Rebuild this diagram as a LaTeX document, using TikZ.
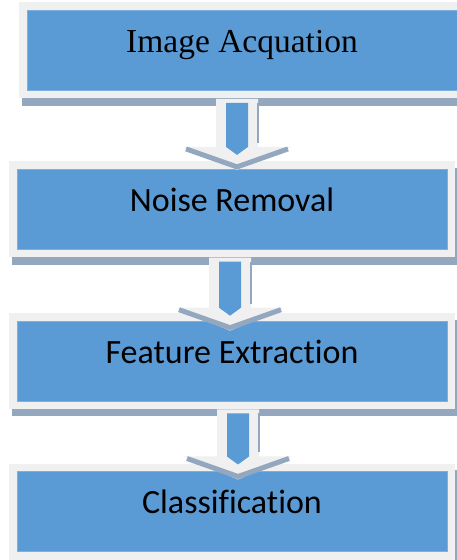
\documentclass[tikz,border=0pt]{standalone}
\usepackage{fontspec}
\setmainfont{Carlito}[Ligatures=NoCommon]
\newfontfamily\titleserif{Liberation Serif}
\usetikzlibrary{positioning,calc,backgrounds}

\definecolor{boxblue}{HTML}{5B9BD5}
\definecolor{edgeblue}{HTML}{7DB0E0}
\definecolor{framegray}{HTML}{F0F0F0}
\definecolor{shadowgray}{HTML}{93A8BF}

\begin{document}
\begin{tikzpicture}[x=1pt, y=1pt,
    box/.style={rectangle, fill=boxblue, draw=edgeblue, line width=0.8pt,
        minimum width=430pt, minimum height=80pt, inner sep=0pt,
        text height=24pt, text depth=20pt, font=\fontsize{34}{40}\selectfont,
        preaction={draw=framegray, line width=16pt}},
    chevron/.style={draw=shadowgray, line width=5pt, line join=round}
]
\useasboundingbox (0,0) rectangle (456,560);

% Stages
\node[box, font=\titleserif\fontsize{33.5}{40}\selectfont] (img) at (242,509.5) {Image Acquation};
\node[box, below=78pt of img, xshift=-10pt] (noise) {Noise Removal};
\node[box, below=71pt of noise] (feat) {Feature Extraction};
\node[box, below=70pt of feat] (class) {Classification};

% Shadows
\begin{scope}[on background layer]
\foreach \n in {img,noise,feat,class}
  \fill[shadowgray] ([shift={(-5,-15)}]\n.south west) rectangle ([shift={(11,1)}]\n.north east);
\end{scope}

% Arrows
\foreach \a/\b/\s/\t in {img/noise/0/1, noise/feat/-2/10, feat/class/6/8} {
  \coordinate (m) at ($(\a.south)!0.5!(\b.north)$);
  \coordinate (st) at ($(m |- \a.south)+(\s,-8)$);
  \coordinate (tp) at ($(m |- \b.north)+(\s,-\t)$);
  \fill[framegray] ($(st)+(-21,0)$) -- ($(tp)+(-21,23)$) -- ($(tp)+(-54,23)$) -- (tp)
    -- ($(tp)+(54,23)$) -- ($(tp)+(21,23)$) -- ($(st)+(21,0)$) -- cycle;
  \draw[chevron] ($(tp)+(-51,21)$) -- ($(tp)+(0,3)$) -- ($(tp)+(51,21)$);
  \draw[shadowgray, line width=1.5pt] ($(st)+(21,-4)$) -- ($(tp)+(21,27)$);
  \fill[boxblue] ($(st)+(-11,-4)$) -- ($(tp)+(-11,23)$) -- ($(tp)+(0,15)$)
    -- ($(tp)+(11,23)$) -- ($(st)+(11,-4)$) -- cycle;
}

\end{tikzpicture}
\end{document}
